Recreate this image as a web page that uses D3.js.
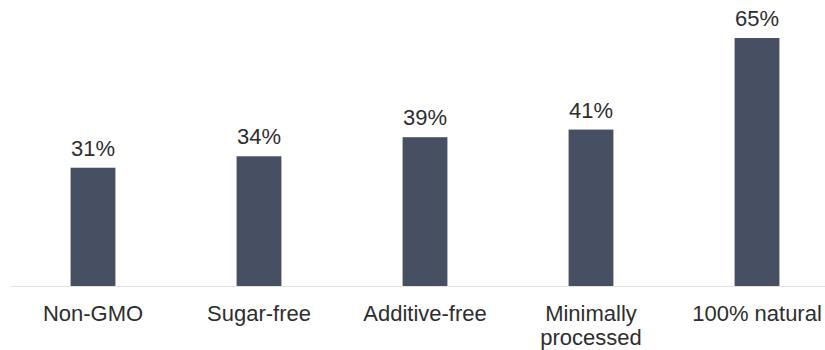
<!DOCTYPE html>
<html>
<head>
<meta charset="utf-8">
<script src="https://cdn.jsdelivr.net/npm/d3@7"></script>
<style>
  body { margin: 0; background: #fff; }
  svg text { font-family: "Liberation Sans", Arial, sans-serif; fill: #2e2e2e; }
</style>
</head>
<body>
<svg id="chart" width="825" height="350"></svg>
<script>
// data
var categories = ["Non-GMO", "Sugar-free", "Additive-free", "Minimally processed", "100% natural"];
var labelLines = [["Non-GMO"], ["Sugar-free"], ["Additive-free"], ["Minimally", "processed"], ["100% natural"]];
var values = [31, 34, 39, 41, 65];

var svg = d3.select("#chart");

var baseline = 286;

var x = d3.scaleBand()
    .domain(categories)
    .range([10, 840])
    .paddingInner(0.73)
    .paddingOuter(0.365);

var y = d3.scaleLinear()
    .domain([0, 65])
    .range([baseline, 38]);

// axis line
svg.append("line")
    .attr("x1", 10)
    .attr("x2", 825)
    .attr("y1", baseline + 0.5)
    .attr("y2", baseline + 0.5)
    .attr("stroke", "#e3e3e3")
    .attr("stroke-width", 1);

svg.selectAll(".bar")
    .data(values)
    .enter().append("rect")
    .attr("class", "bar")
    .attr("x", function (d, i) { return x(categories[i]); })
    .attr("y", function (d) { return y(d); })
    .attr("width", x.bandwidth())
    .attr("height", function (d) { return baseline - y(d); })
    .attr("fill", "#474f63");

svg.selectAll(".valueLabel")
    .data(values)
    .enter().append("text")
    .attr("class", "valueLabel")
    .attr("x", function (d, i) { return x(categories[i]) + x.bandwidth() / 2; })
    .attr("y", function (d) { return y(d) - 12; })
    .attr("text-anchor", "middle")
    .style("font-size", "22px")
    .text(function (d) { return d + "%"; });

var catLabels = svg.selectAll(".catLabel")
    .data(labelLines)
    .enter().append("text")
    .attr("class", "catLabel")
    .attr("x", function (d, i) { return x(categories[i]) + x.bandwidth() / 2; })
    .attr("y", 321)
    .attr("text-anchor", "middle")
    .style("font-size", "22px");

catLabels.selectAll("tspan")
    .data(function (d) { return d; })
    .enter().append("tspan")
    .attr("x", function () { return d3.select(this.parentNode).attr("x"); })
    .attr("dy", function (d, i) { return i === 0 ? 0 : 24; })
    .text(function (d) { return d; });
</script>
</body>
</html>
